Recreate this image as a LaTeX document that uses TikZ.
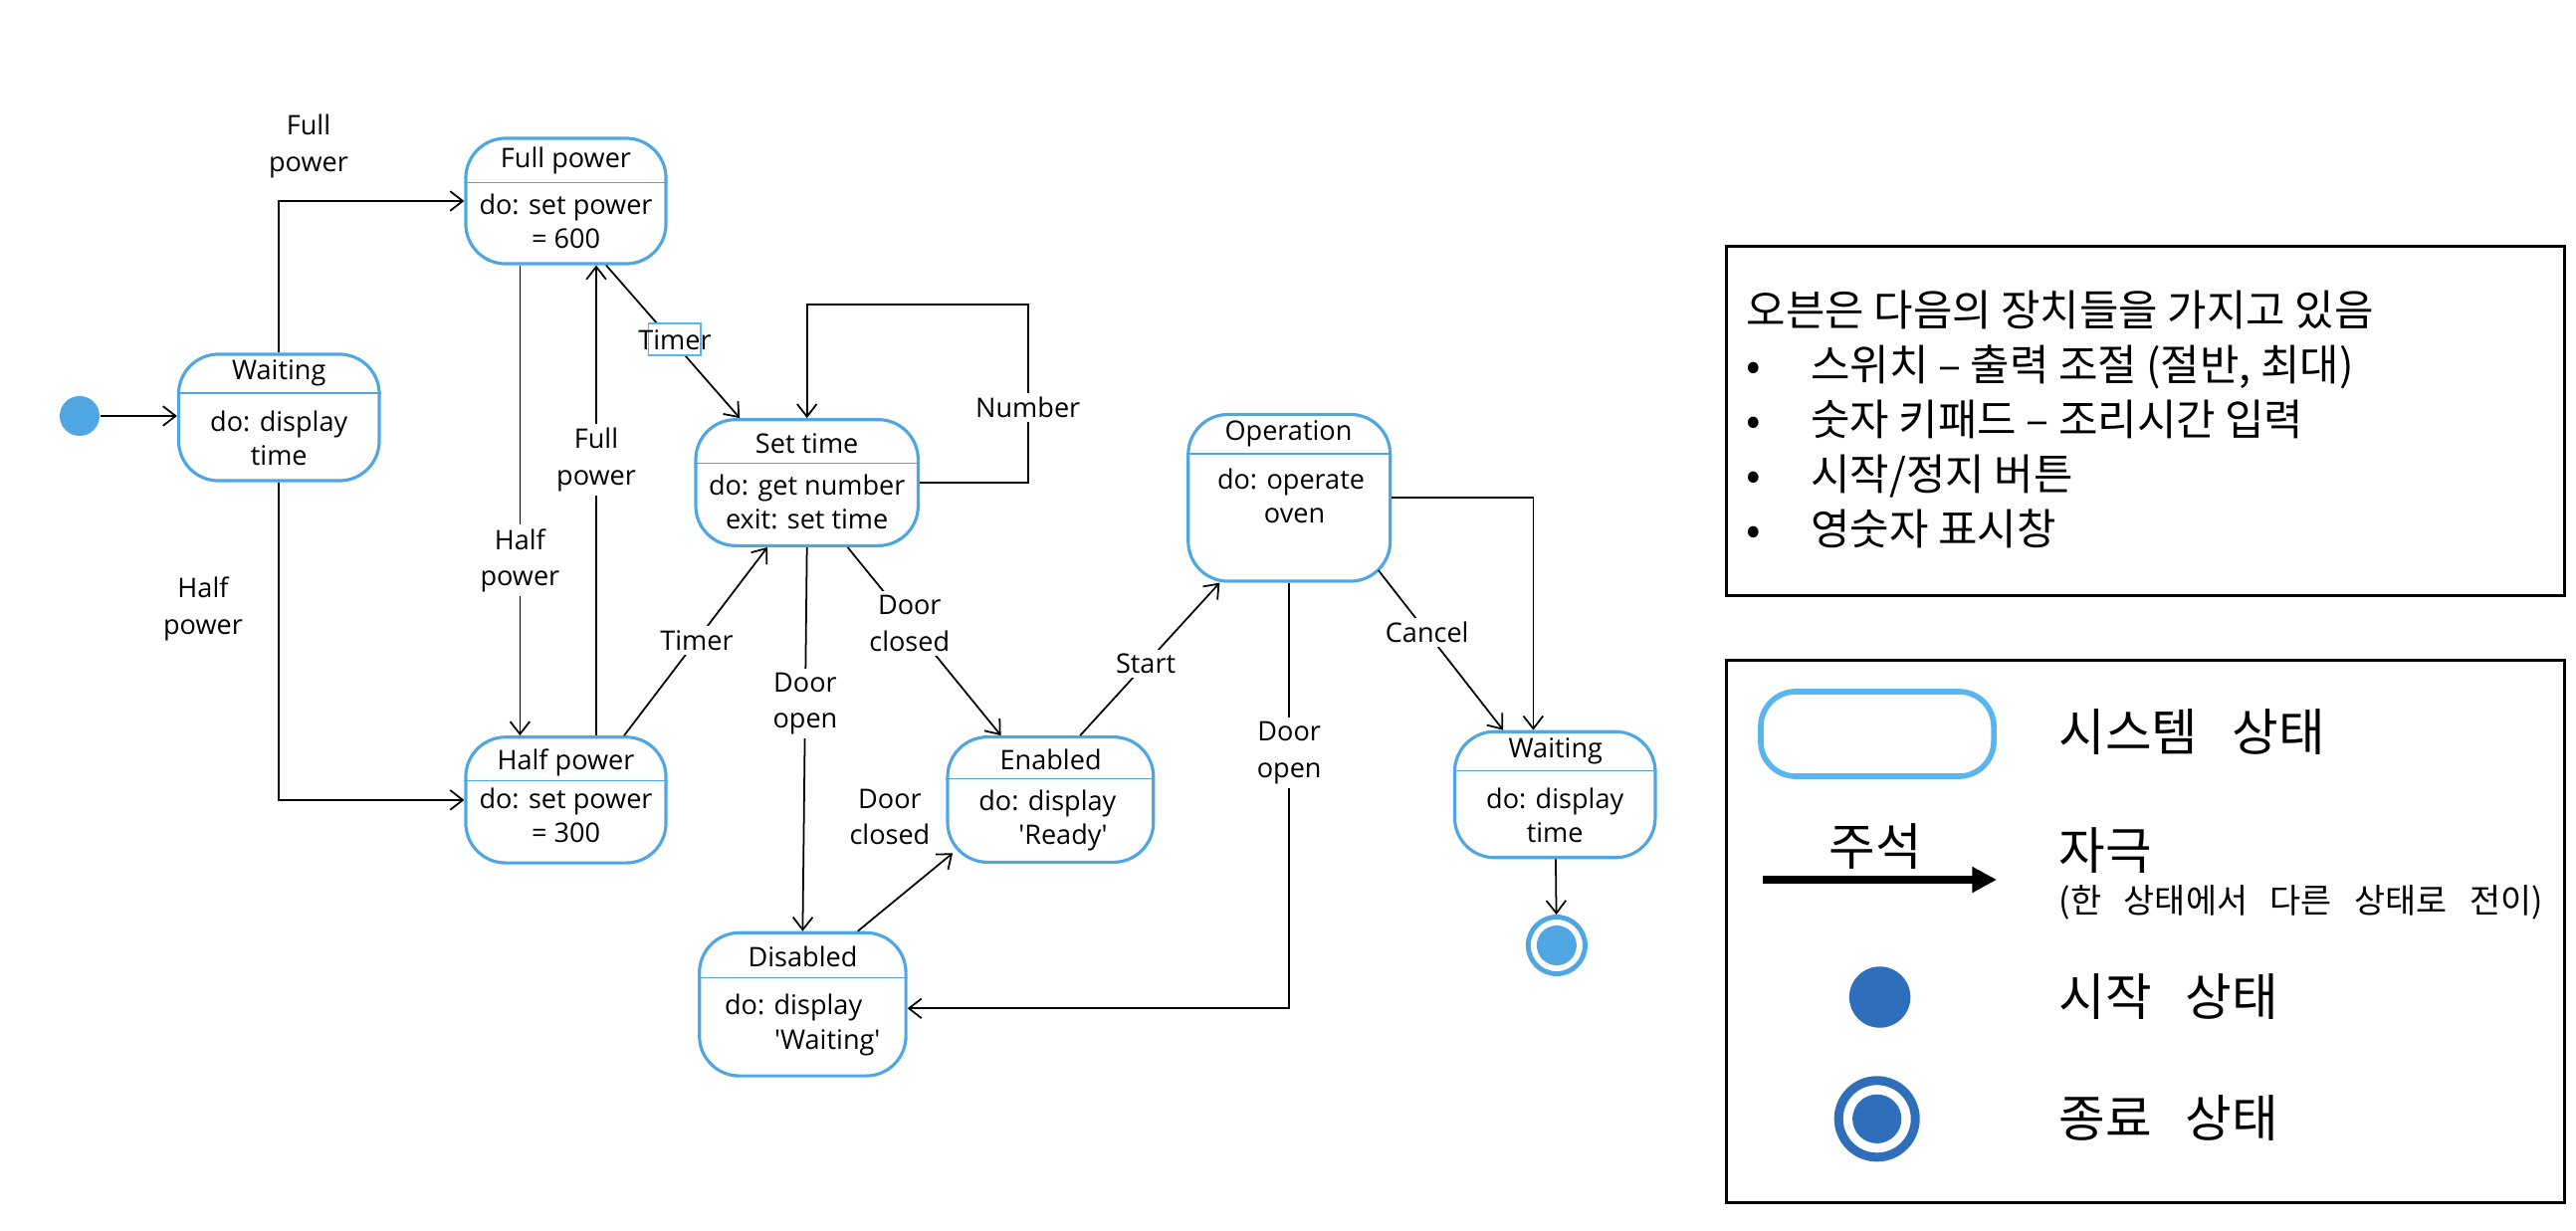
\documentclass[tikz,border=0pt]{standalone}
\usepackage{fontspec}
\setmainfont{Open Sans}
\newfontfamily\kr{Noto Sans CJK KR}
\newfontfamily\krleg[WordSpace=1.8]{Noto Sans CJK KR}
\newfontfamily\krsmall[WordSpace=3]{Noto Sans CJK KR}
\newcommand{\ks}{\hspace{0.22em}}
\usepackage{tikz}
\usetikzlibrary{positioning,arrows.meta}
\definecolor{stblue}{RGB}{80,166,227}
\definecolor{legblue}{RGB}{88,181,237}
\definecolor{dotblue}{RGB}{47,110,186}
\tikzset{
    x=0.01cm,
    y=-0.01cm,
    state/.style = {
        draw=stblue,
        line width=0.9pt,
        rounded corners=0.4cm,
        inner sep=0pt
    },
    stname/.style = {
        inner sep=0pt,
        font=\fontsize{7.7pt}{9.7pt}\selectfont
    },
    sttext/.style = {
        inner sep=0pt,
        align=center,
        font=\fontsize{7.7pt}{9.7pt}\selectfont
    },
    stline/.style = {
        draw=stblue,
        line width=0.4pt
    },
    trans/.style = {
        fill=white,
        inner sep=1.2pt,
        align=center,
        font=\fontsize{7.7pt}{10.4pt}\selectfont
    },
    conn/.style = {
        draw,
        line width=0.5pt,
        ->
    },
    startdot/.style = {
        circle,
        fill=stblue,
        minimum size=0.4cm,
        inner sep=0pt
    },
    enddot/.style = {
        circle,
        draw=stblue,
        line width=1.4pt,
        minimum size=0.57cm,
        inner sep=0pt,
        path picture={\fill[stblue] (path picture bounding box.center) circle (0.2cm);}
    },
    selbox/.style = {
        draw=legblue,
        line width=0.5pt,
        fill=white,
        minimum width=0.523cm,
        minimum height=0.323cm,
        inner sep=0pt
    },
    panel/.style = {
        draw,
        line width=0.8pt,
        inner sep=0pt
    },
    notetxt/.style = {
        inner sep=0pt,
        align=left,
        font=\kr\fontsize{12.2pt}{15.65pt}\selectfont
    },
    legtxt/.style = {
        inner sep=0pt,
        anchor=west,
        font=\krleg\fontsize{14.4pt}{17pt}\selectfont
    },
    legsmall/.style = {
        inner sep=0pt,
        anchor=west,
        font=\krsmall\fontsize{9.6pt}{11pt}\selectfont
    },
    legstate/.style = {
        draw=legblue,
        line width=1.6pt,
        rounded corners=0.35cm,
        minimum width=2.34cm,
        minimum height=0.85cm
    },
    legstart/.style = {
        circle,
        fill=dotblue,
        minimum size=0.614cm,
        inner sep=0pt
    },
    legstop/.style = {
        circle,
        draw=dotblue,
        line width=2.56pt,
        minimum size=0.77cm,
        inner sep=0pt,
        path picture={\fill[dotblue] (path picture bounding box.center) circle (0.246cm);}
    },
    >={Straight Barb[length=3.6pt,width=5.6pt]},
}

\begin{document}
\begin{tikzpicture}
                \useasboundingbox (0,0) rectangle (2588,1236);

                \node[startdot] (init) at (80,418) {};
                \node[state, minimum width=2.015cm, minimum height=1.27cm] (wait1) at (280.25,419.5) {};
                \node[state, minimum width=2.01cm, minimum height=1.26cm] (full) at (568.5,202) {};
                \node[state, minimum width=2.01cm, minimum height=1.263cm] (half) at (568.5,803.9) {};
                \node[state, minimum width=2.233cm, minimum height=1.266cm] (set) at (810.7,485) {};
                \node[state, minimum width=2.067cm, minimum height=1.257cm] (enab) at (1055.4,803.5) {};
                \node[state, minimum width=2.073cm, minimum height=1.437cm] (dis) at (806.4,1009.2) {};
                \node[state, minimum width=2.028cm, minimum height=1.675cm] (oper) at (1295.2,500.25) {};
                \node[state, minimum width=2.013cm, minimum height=1.265cm] (wait2) at (1562.2,798.5) {};
                \node[enddot] (final) at (1563.9,950) {};

                \path[stline] ([yshift=-0.407cm]wait1.north west) -- ([yshift=-0.407cm]wait1.north east);
                \path[stline] ([yshift=-0.46cm]full.north west) -- ([yshift=-0.46cm]full.north east);
                \path[stline] ([yshift=-0.453cm]half.north west) -- ([yshift=-0.453cm]half.north east);
                \path[stline] ([yshift=-0.456cm]set.north west) -- ([yshift=-0.456cm]set.north east);
                \path[stline] ([yshift=-0.436cm]enab.north west) -- ([yshift=-0.436cm]enab.north east);
                \path[stline] ([yshift=-0.467cm]dis.north west) -- ([yshift=-0.467cm]dis.north east);
                \path[stline] ([yshift=-0.41cm]oper.north west) -- ([yshift=-0.41cm]oper.north east);
                \path[stline] ([yshift=-0.407cm]wait2.north west) -- ([yshift=-0.407cm]wait2.north east);

                \node[stname] (wait1n) at (280.25,375) {Waiting};
                \node[sttext] (wait1t) at (280.25,440.3) {do: display\\time};
                \node[stname] (fulln) at (568.5,161.7) {Full power};
                \node[sttext] (fullt) at (568.5,222.3) {do: set power\\= 600};
                \node[stname] (halfn) at (568.5,766.4) {Half power};
                \node[sttext] (halft) at (568.5,819.6) {do: set power\\= 300};
                \node[stname] (setn) at (810.7,445.7) {Set time};
                \node[sttext] (sett) at (810.7,504.5) {do: get number\\exit: set time};
                \node[stname] (enabn) at (1055.6,762.9) {Enabled};
                \node[sttext, align=left, anchor=west] (enabt) at (982.6,824.5)
                {do: display\\\hspace*{0.4cm}\textquotesingle Ready\textquotesingle};
                \node[stname] (disn) at (806.5,961.7) {Disabled};
                \node[sttext, align=left, anchor=west] (dist) at (727.4,1030)
                {do: display\\\hspace*{0.5cm}\textquotesingle Waiting\textquotesingle};
                \node[stname] (opern) at (1294.5,436) {Operation};
                \node[sttext] (opert) at (1297,498.3) {do: operate\\\hspace*{0.07cm}oven};
                \node[stname] (wait2n) at (1562.8,755.2) {Waiting};
                \node[sttext] (wait2t) at (1562.2,819.6) {do: display\\time};

                \path[conn] (init) -- (init -| wait1.west);
                \path[conn] (wait1) |- (full);
                \node[trans, fill=none] (fullpw1) at (310,147) {Full\\power};
                \path[conn] (wait1) |- (half);
                \node[trans, fill=none] (halfpw1) at (204,611.7) {Half\\power};
                \path[conn] ([xshift=-0.461cm]full.south) -- ([xshift=-0.461cm]half.north)
                node[trans, pos=0.628] (halfpw2) {Half\\power};
                \path[conn] ([xshift=0.305cm]half.north) -- ([xshift=0.305cm]full.south)
                node[trans, pos=0.587] (fullpw2) {Full\\power};
                \path[conn] ([xshift=0.405cm]full.south) -- ([xshift=-0.674cm]set.north)
                node[selbox, pos=0.486, xshift=0.035cm] (timerbox) {}
                node[trans, fill=none, inner sep=0pt, pos=0.49, xshift=0.032cm] (timer1) {Timer};
                \path[conn] ([xshift=0.585cm]half.north) -- ([xshift=-0.397cm]set.south)
                node[trans, pos=0.507] (timer2) {Timer};
                \coordinate (numtop) at (1032.7,306);
                \path[conn] (set.east) -| (numtop) node[trans, pos=0.71] (number) {Number}
                -| (set.north);
                \path[conn] (set.south) -- (dis.north)
                node[trans, pos=0.407] (dooropen1) {Door\\open};
                \path[conn] ([xshift=0.408cm]set.south) -- ([xshift=-0.498cm]enab.north)
                node[trans, pos=0.404] (doorcl1) {Door\\closed};
                \path[conn] ([xshift=0.553cm]dis.north) -- ([xshift=0.067cm,yshift=0.107cm]enab.south west);
                \node[trans, fill=none] (doorcl2) at (893.9,821) {Door\\closed};
                \path[conn] ([xshift=0.298cm]enab.north) -- ([xshift=-0.698cm]oper.south)
                node[trans, pos=0.47] (start) {Start};
                \path[conn] (oper) |- ([yshift=-0.041cm]dis.east)
                node[trans, pos=0.2] (dooropen2) {Door\\open};
                \path[conn] ([xshift=-0.134cm,yshift=0.125cm]oper.south east) -- ([xshift=-0.52cm]wait2.north)
                node[trans, pos=0.39] (cancel) {Cancel};
                \path[conn] (oper) -| ([xshift=-0.218cm]wait2.north);
                \path[conn] (wait2) -- (final);

                \node[panel, minimum width=8.41cm, minimum height=3.504cm] (notebox) at (2155.5,422.8) {};
                \node[notetxt, anchor=west] (note) at (1754,421.85)
                {오븐은\ks 다음의\ks 장치들을\ks 가지고\ks 있음\\
                \makebox[0.647cm][l]{•}스위치\ks –\ks 출력\ks 조절\ks (절반,\ks 최대)\\
                \makebox[0.647cm][l]{•}숫자\ks 키패드\ks –\ks 조리시간\ks 입력\\
                \makebox[0.647cm][l]{•}시작/정지\ks 버튼\\
                \makebox[0.647cm][l]{•}영숫자\ks 표시창};

                \node[panel, minimum width=8.41cm, minimum height=5.44cm] (legbox) at (2155.5,936) {};
                \node[legstate] (legst) at (1886,737.5) {};
                \node[legtxt] (legstn) at (2068,736) {시스템 상태};
                \coordinate (arrl) at (1771,884);
                \coordinate (arrr) at (2006,884);
                \path[draw, line width=2.1pt, -{Triangle[length=7pt,width=7pt]}] (arrl) -- (arrr);
                \node[legtxt, anchor=center] (legnote) at (1884,851) {주석};
                \node[legtxt] (legtr) at (2068,855) {자극};
                \node[legsmall] (legtr2) at (2068,907) {(한 상태에서 다른 상태로 전이)};
                \node[legstart] (legs) at (1888.6,1002) {};
                \node[legtxt] (legsn) at (2068,1002) {시작 상태};
                \node[legstop] (lege) at (1885.7,1124.3) {};
                \node[legtxt] (legen) at (2068,1124) {종료 상태};
            \end{tikzpicture}
\end{document}
